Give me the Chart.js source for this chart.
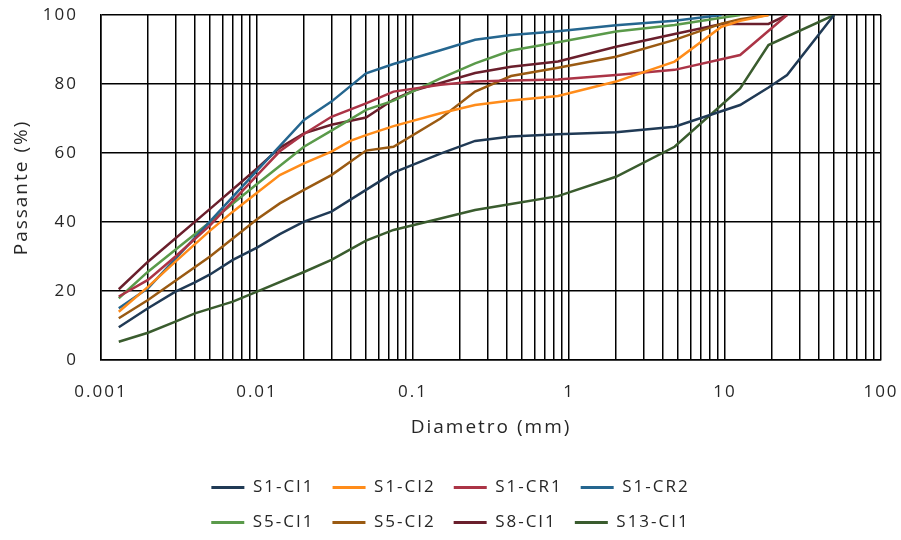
<!DOCTYPE html>
<html lang="pt">
<head>
<meta charset="utf-8">
<title>Curva granulométrica</title>
<script src="https://cdn.jsdelivr.net/npm/chart.js@4.4.1/dist/chart.umd.min.js"></script>
<style>
  html, body { margin: 0; padding: 0; background: #fff; }
  #wrap { width: 901px; height: 540px; }
</style>
</head>
<body>
<div id="wrap"><canvas id="grain-chart" width="901" height="540"></canvas></div>
<script>
// Grain size distributions (diameter in mm, percent passing)
const seriesNames = ["S1-CI1", "S1-CI2", "S1-CR1", "S1-CR2", "S5-CI1", "S5-CI2", "S8-CI1", "S13-CI1"];
const seriesColors = ["#203a55", "#ff8c1a", "#ab3446", "#25668f", "#5a9a4a", "#9a5a12", "#6a1f2c", "#3a5c2e"];

const s1ci1Diam = [0.0013, 0.002, 0.003, 0.004, 0.005, 0.007, 0.01, 0.014, 0.02, 0.03, 0.05, 0.075, 0.15, 0.25, 0.425, 0.85, 2, 4.75, 12.5, 19, 25, 50];
const s1ci1Pass = [9.5, 15.0, 19.8, 22.5, 24.8, 29.0, 32.6, 36.5, 40.1, 43.0, 49.3, 54.3, 59.8, 63.5, 64.8, 65.4, 66.0, 67.6, 73.9, 79.0, 82.6, 100];

const s1ci2Diam = [0.0013, 0.002, 0.003, 0.005, 0.007, 0.01, 0.014, 0.02, 0.03, 0.04, 0.05, 0.075, 0.15, 0.25, 0.425, 0.85, 2, 4.75, 9.5, 12.5, 19];
const s1ci2Pass = [14.0, 21.2, 28.5, 37.5, 43.0, 48.5, 53.6, 57.0, 60.4, 63.6, 65.2, 67.8, 71.5, 73.9, 75.2, 76.5, 80.7, 86.5, 96.6, 98.3, 100];

const s1cr1Diam = [0.0013, 0.002, 0.003, 0.005, 0.01, 0.014, 0.02, 0.03, 0.05, 0.075, 0.15, 0.25, 0.425, 0.85, 2, 4.75, 12.5, 25];
const s1cr1Pass = [18.4, 23.2, 30.0, 39.0, 53.5, 60.5, 65.5, 70.5, 74.4, 77.8, 79.8, 80.7, 81.0, 81.3, 82.6, 84.1, 88.4, 100];

const s1cr2Diam = [0.0013, 0.002, 0.005, 0.01, 0.02, 0.03, 0.05, 0.075, 0.15, 0.25, 0.425, 0.85, 2, 4.75, 9.5];
const s1cr2Pass = [15.0, 20.8, 40.2, 54.9, 69.6, 74.9, 83.1, 85.8, 89.8, 92.8, 94.2, 95.3, 97.0, 98.3, 100];

const s5ci1Diam = [0.0013, 0.002, 0.005, 0.01, 0.02, 0.03, 0.05, 0.075, 0.15, 0.25, 0.425, 0.85, 2, 4.75, 9.5, 12.5];
const s5ci1Pass = [17.9, 25.6, 40.0, 51.0, 61.8, 66.5, 72.5, 75.2, 81.6, 86.0, 89.7, 92.1, 95.2, 97.1, 99.2, 100];

const s5ci2Diam = [0.0013, 0.002, 0.005, 0.01, 0.014, 0.02, 0.03, 0.05, 0.075, 0.15, 0.25, 0.425, 0.85, 2, 4.75, 9.5, 12.5, 19];
const s5ci2Pass = [12.1, 17.4, 30.0, 40.8, 45.4, 49.3, 53.6, 60.7, 61.8, 70.0, 77.8, 82.3, 84.7, 87.9, 92.8, 97.5, 98.8, 100];

const s8ci1Diam = [0.0013, 0.002, 0.005, 0.01, 0.014, 0.02, 0.03, 0.05, 0.075, 0.1, 0.25, 0.425, 0.85, 2, 4.75, 9.5, 19, 25];
const s8ci1Pass = [20.5, 28.5, 43.8, 55.5, 61.5, 65.7, 68.2, 70.3, 75.5, 78.0, 83.2, 85.0, 86.5, 90.8, 94.5, 97.4, 97.4, 100];

const s13ci1Diam = [0.0013, 0.002, 0.003, 0.004, 0.007, 0.01, 0.02, 0.03, 0.05, 0.075, 0.15, 0.25, 0.425, 0.85, 2, 4.75, 12.5, 19, 50];
const s13ci1Pass = [5.3, 7.9, 11.1, 13.5, 16.9, 19.8, 25.5, 29.0, 34.6, 37.7, 41.0, 43.5, 45.2, 47.5, 53.1, 61.8, 78.7, 91.3, 100];

const diameters = [s1ci1Diam, s1ci2Diam, s1cr1Diam, s1cr2Diam, s5ci1Diam, s5ci2Diam, s8ci1Diam, s13ci1Diam];
const passing = [s1ci1Pass, s1ci2Pass, s1cr1Pass, s1cr2Pass, s5ci1Pass, s5ci2Pass, s8ci1Pass, s13ci1Pass];

const xTickLabels = ["0.001", "0.01", "0.1", "1", "10", "100"];
const yTickLabels = ["0", "20", "40", "60", "80", "100"];

const FONT = "'Open Sans', 'Noto Sans', sans-serif";
const TEXT_COLOR = "#262626";
const LETTER_SPACING = "2px";
const LEGEND_WIDTH = 560; // four entries per row

// gridlines at 1..9 x every decade between the first and last labelled tick
const decadeGrid = () => {
  const first = Math.log10(Number(xTickLabels[0]));
  const last = Math.log10(Number(xTickLabels[xTickLabels.length - 1]));
  const values = [];
  for (let e = first; e < last; e++) {
    for (let m = 1; m <= 9; m++) {
      values.push(Number((m * Math.pow(10, e)).toPrecision(3)));
    }
  }
  values.push(Number(xTickLabels[xTickLabels.length - 1]));
  return values;
};

const xLabelFor = (value) => {
  const match = xTickLabels.find((label) => Math.abs(Number(label) - value) / value < 1e-6);
  return match ?? "";
};

// widen all chart text a little (measured and drawn with the same spacing)
const letterSpacing = {
  id: "letterSpacing",
  beforeLayout: (chart) => {
    chart.ctx.letterSpacing = LETTER_SPACING;
  },
  beforeDraw: (chart) => {
    chart.ctx.letterSpacing = LETTER_SPACING;
  }
};

// keep the legend in a narrow centred block so it wraps into two rows
const legendBlock = {
  id: "legendBlock",
  beforeLayout: (chart) => {
    const legend = chart.legend;
    if (!legend || legend._narrowed) {
      return;
    }
    const update = legend.update.bind(legend);
    legend.update = (maxWidth, maxHeight, margins) =>
      update(Math.min(maxWidth, LEGEND_WIDTH), maxHeight, margins);
    legend._narrowed = true;
  },
  afterLayout: (chart) => {
    const legend = chart.legend;
    if (!legend) {
      return;
    }
    legend.left = (chart.width - LEGEND_WIDTH) / 2;
    legend.right = legend.left + LEGEND_WIDTH;
    legend.width = LEGEND_WIDTH;
  }
};

const datasets = seriesNames.map((name, i) => ({
  label: name,
  data: diameters[i].map((d, j) => ({ x: d, y: passing[i][j] })),
  borderColor: seriesColors[i],
  backgroundColor: seriesColors[i],
  borderWidth: 2.5,
  pointRadius: 0,
  tension: 0,
  fill: false
}));

const ctx = document.getElementById("grain-chart");

new Chart(ctx, {
  type: "line",
  data: { datasets },
  plugins: [letterSpacing, legendBlock],
  options: {
    responsive: false,
    animation: false,
    layout: { padding: { left: 0, right: 20, top: 15, bottom: -1 } },
    plugins: {
      tooltip: { enabled: false },
      legend: {
        position: "bottom",
        labels: {
          color: TEXT_COLOR,
          font: { family: FONT, size: 17 },
          boxWidth: 33,
          boxHeight: 3,
          padding: 18,
          generateLabels: (chart) =>
            Chart.defaults.plugins.legend.labels.generateLabels(chart).map((item) => ({
              ...item,
              fillStyle: item.strokeStyle,
              lineWidth: 0
            }))
        }
      }
    },
    scales: {
      x: {
        type: "logarithmic",
        min: Number(xTickLabels[0]),
        max: Number(xTickLabels[xTickLabels.length - 1]),
        afterBuildTicks: (scale) => {
          scale.ticks = decadeGrid().map((value) => ({ value }));
        },
        afterFit: (scale) => {
          scale.height = 101;
          scale.paddingLeft = 0;
          scale.paddingRight = 0;
        },
        grid: { color: "#000", lineWidth: 1.5, drawTicks: false },
        border: { color: "#000", width: 1.5 },
        ticks: {
          autoSkip: false,
          maxRotation: 0,
          padding: 22,
          color: TEXT_COLOR,
          font: { family: FONT, size: 17 },
          callback: (value) => xLabelFor(value)
        },
        title: {
          display: true,
          text: "Diametro (mm)",
          color: TEXT_COLOR,
          font: { family: FONT, size: 19 },
          padding: 22
        }
      },
      y: {
        min: 0,
        max: 100,
        afterBuildTicks: (scale) => {
          scale.ticks = yTickLabels.map((label) => ({ value: Number(label) }));
        },
        afterFit: (scale) => {
          scale.width = 101;
          scale.paddingTop = 0;
          scale.paddingBottom = 0;
        },
        grid: { color: "#000", lineWidth: 1.5, drawTicks: false },
        border: { color: "#000", width: 1.5 },
        ticks: {
          padding: 23,
          color: TEXT_COLOR,
          font: { family: FONT, size: 17 },
          callback: (value) => String(value)
        },
        title: {
          display: true,
          text: "Passante (%)",
          color: TEXT_COLOR,
          font: { family: FONT, size: 19 },
          padding: 10
        }
      }
    }
  }
});
</script>
</body>
</html>
